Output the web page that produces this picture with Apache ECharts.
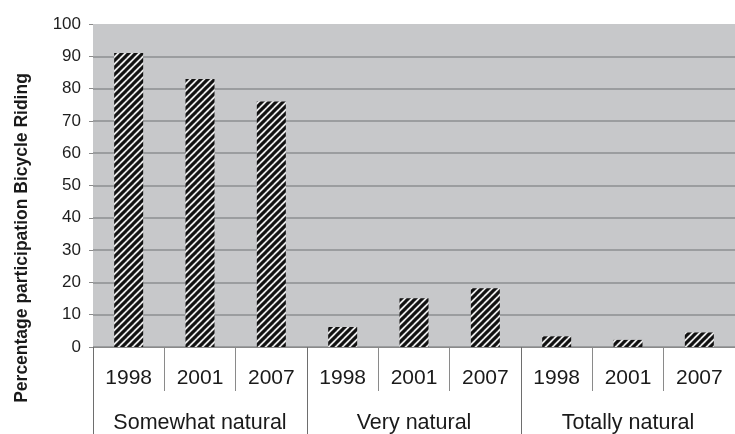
<!DOCTYPE html>
<html>
<head>
<meta charset="utf-8">
<script src="https://cdn.jsdelivr.net/npm/echarts@6/dist/echarts.min.js"></script>
<style>html,body{margin:0;padding:0;background:#fff}#c{width:735px;height:434px}</style>
</head>
<body>
<div id="c"></div>
<script>
var years = ['1998','2001','2007','1998','2001','2007','1998','2001','2007'];
var groups = ['Somewhat natural','Very natural','Totally natural'];
var values = [91, 83, 76, 6.2, 15.1, 18.2, 3.3, 2.2, 4.5];
var yTicks = [0,10,20,30,40,50,60,70,80,90,100];
var yName = 'Percentage participation Bicycle Riding';

var tile = document.createElement('canvas');
tile.width = 7; tile.height = 7;
var ctx = tile.getContext('2d');
ctx.fillStyle = '#ececec';
ctx.fillRect(0,0,7,7);
ctx.strokeStyle = '#111111';
ctx.lineWidth = 3.1;
[-7,0,7].forEach(function(o){
  ctx.beginPath();
  ctx.moveTo(o-1, 8);
  ctx.lineTo(o+8, -1);
  ctx.stroke();
});

var font = '"Liberation Sans", Arial, sans-serif';
var gridColors = yTicks.map(function(v){ return v === 100 ? 'rgba(0,0,0,0)' : '#8d8f91'; });

var chart = echarts.init(document.getElementById('c'));
chart.setOption({
  animation: false,
  backgroundColor: '#ffffff',
  grid: {left: 93, right: -10, top: 24, bottom: 86, show: true, backgroundColor: '#c7c8ca', borderWidth: 0},
  xAxis: [{
    type: 'category', data: years, position: 'bottom',
    axisLine: {show: true, lineStyle: {color: '#8a8a8a', width: 1}},
    axisTick: {show: true, interval: 0, length: 44, lineStyle: {color: '#8a8a8a', width: 1}},
    axisLabel: {interval: 0, fontSize: 21, color: '#1a1a1a', fontFamily: font, margin: 21}
  }, {
    type: 'category', data: groups, position: 'bottom',
    axisLine: {show: false},
    axisTick: {show: true, interval: 0, length: 90, lineStyle: {color: '#6e6e6e', width: 1}},
    axisLabel: {interval: 0, fontSize: 21.5, color: '#1a1a1a', fontFamily: font, margin: 65}
  }],
  yAxis: {
    type: 'value', min: 0, max: 100, interval: 10,
    axisLine: {show: false},
    axisTick: {show: true, length: 4, lineStyle: {color: '#8a8a8a'}},
    axisLabel: {fontSize: 17, color: '#1e1e1e', fontFamily: font, margin: 12},
    splitLine: {show: true, lineStyle: {color: gridColors, width: 1.5}}
  },
  graphic: [{
    type: 'text', x: 22, y: 238, rotation: Math.PI / 2,
    style: {text: yName, font: 'bold 17.5px ' + font, fill: '#1a1a1a', textAlign: 'center', textVerticalAlign: 'middle'}
  }],
  series: [{
    type: 'bar', xAxisIndex: 0, data: values, barWidth: 29,
    itemStyle: {color: {image: tile, repeat: 'repeat'}}
  }]
});
</script>
</body>
</html>
